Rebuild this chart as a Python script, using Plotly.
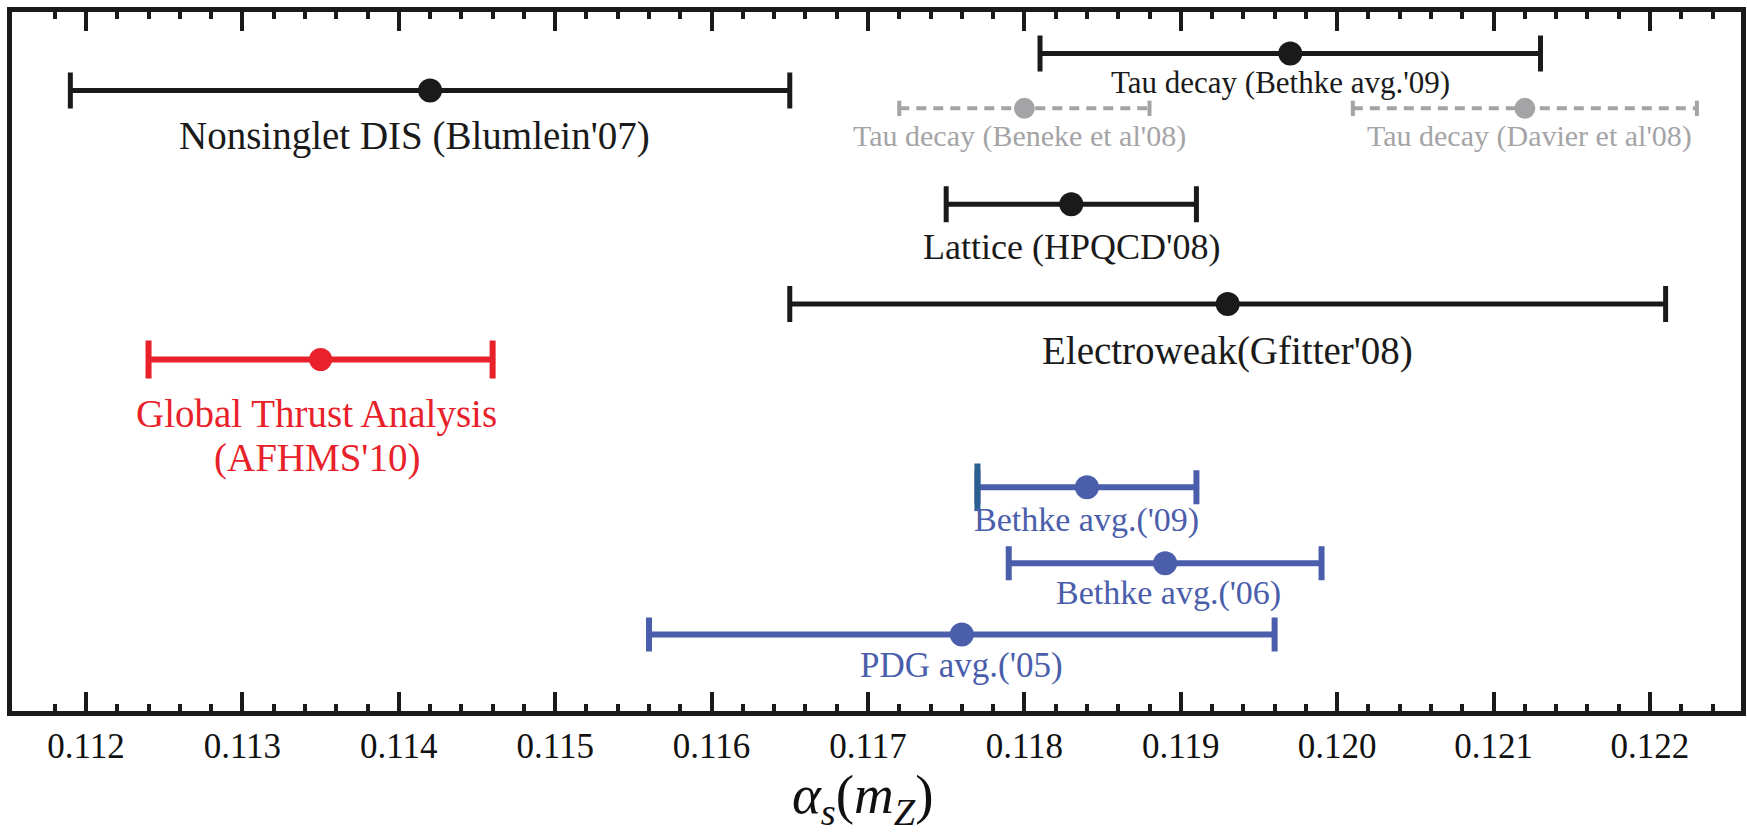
import plotly.graph_objects as go

# ---- data -------------------------------------------------------------
labels = [
    "Tau decay (Bethke avg.'09)",
    "Nonsinglet DIS (Blumlein'07)",
    "Tau decay (Beneke et al'08)",
    "Tau decay (Davier et al'08)",
    "Lattice (HPQCD'08)",
    "Electroweak(Gfitter'08)",
    "Global Thrust Analysis<br>(AFHMS'10)",
    "Bethke avg.('09)",
    "Bethke avg.('06)",
    "PDG avg.('05)",
]
central = [0.1197, 0.1142, 0.1180, 0.1212, 0.1183, 0.1193, 0.1135, 0.1184, 0.1189, 0.1176]
errors = [0.0016, 0.0023, 0.0008, 0.0011, 0.0008, 0.0028, 0.0011, 0.0007, 0.0010, 0.0020]
rows = [13.17, 12.43, 12.07, 12.07, 10.15, 8.15, 7.04, 4.48, 2.96, 1.53]
groups = ["black", "black", "gray", "gray", "black", "black", "red", "blue", "blue", "blue"]

major_ticks = [0.112, 0.113, 0.114, 0.115, 0.116, 0.117, 0.118, 0.119, 0.120, 0.121, 0.122]
tick_text = ["0.112", "0.113", "0.114", "0.115", "0.116", "0.117", "0.118", "0.119", "0.120", "0.121", "0.122"]

# ---- styles -----------------------------------------------------------
FONT = "Liberation Serif, Times New Roman, Tinos, serif"
STYLE = {
    "black": dict(color="#1a1a1a", thick=5, cap=18, msize=24, dash=None),
    "gray": dict(color="#a4a4a7", thick=4, cap=11, msize=21, dash="10px,7px"),
    "red": dict(color="#e8212a", thick=6, cap=19, msize=23, dash=None),
    "blue": dict(color="#4a5eab", thick=6, cap=17, msize=24, dash=None),
}
label_size = [31, 39, 30, 30, 36, 39, 39, 34, 34, 35]
label_drop = [29, 46, 28, 28, 43, 47, 54, 33, 30, 31]
label_xshift = [-10, -16, -5, 5, 0, 0, -4, 0, 3, 0]
line_gap = 44
left_cap_accent = {7: "#2b6190"}   # the Bethke avg.('09) left cap is drawn in a teal-blue

fig = go.Figure()
for i, (lab, c, e, r, g) in enumerate(zip(labels, central, errors, rows, groups)):
    st = STYLE[g]
    if st["dash"]:
        fig.add_trace(go.Scatter(
            x=[c - e, c + e], y=[r, r], mode="lines+markers",
            line=dict(color=st["color"], width=st["thick"], dash=st["dash"]),
            marker=dict(symbol="line-ns", size=st["cap"],
                        line=dict(width=st["thick"], color=st["color"])),
            hoverinfo="skip", showlegend=False))
        fig.add_trace(go.Scatter(
            x=[c], y=[r], mode="markers",
            marker=dict(size=st["msize"], color=st["color"]),
            showlegend=False, name=lab))
    else:
        fig.add_trace(go.Scatter(
            x=[c], y=[r], mode="markers",
            marker=dict(size=st["msize"], color=st["color"]),
            error_x=dict(type="data", array=[e], symmetric=True,
                         color=st["color"], thickness=st["thick"], width=st["cap"]),
            showlegend=False, name=lab))
    if i in left_cap_accent:
        fig.add_trace(go.Scatter(
            x=[c - e], y=[r], mode="markers",
            marker=dict(symbol="line-ns", size=2 * st["cap"],
                        line=dict(width=st["thick"], color=left_cap_accent[i])),
            hoverinfo="skip", showlegend=False))

for i, (lab, c, r, g) in enumerate(zip(labels, central, rows, groups)):
    for j, line in enumerate(lab.split("<br>")):
        fig.add_annotation(
            x=c, y=r, text=line, showarrow=False,
            xanchor="center", yanchor="middle",
            xshift=label_xshift[i],
            yshift=-(label_drop[i] + j * line_gap),
            font=dict(family=FONT, size=label_size[i], color=STYLE[g]["color"]))

minor_ticks = [round(0.1118 + 0.0002 * k, 4) for k in range(54)]
minor_ticks = [t for t in minor_ticks if t <= 0.12245 and all(abs(t - m) > 1e-7 for m in major_ticks)]

axis_color = "#1a1a1a"
fig.update_layout(
    width=1747, height=833,
    margin=dict(l=12, r=6, t=12, b=122, autoexpand=False),
    plot_bgcolor="white", paper_bgcolor="white",
    showlegend=False,
    xaxis=dict(
        range=[0.111527, 0.122582],
        showline=True, linewidth=5, linecolor=axis_color, mirror="allticks",
        ticks="inside", ticklen=19, tickwidth=4, tickcolor=axis_color,
        tickvals=major_ticks, ticktext=tick_text,
        tickfont=dict(family=FONT, size=35, color="#111111"),
        showgrid=False, zeroline=False,
        minor=dict(tickvals=minor_ticks, ticks="inside", ticklen=7, tickwidth=4,
                   tickcolor=axis_color, showgrid=False),
        title=dict(text="<i>α</i><sub><i>s</i></sub>(<i>m</i><sub><i>Z</i></sub>)&nbsp;&nbsp;",
                   font=dict(family=FONT, size=55, color="#111111"), standoff=8),
    ),
    yaxis=dict(
        range=[0, 14], showline=True, linewidth=5, linecolor=axis_color, mirror=True,
        ticks="", showticklabels=False, showgrid=False, zeroline=False,
    ),
)

fig.write_html("out.html", config={"displayModeBar": False},
               post_script="document.body.style.margin='0';document.body.style.overflow='hidden';")
